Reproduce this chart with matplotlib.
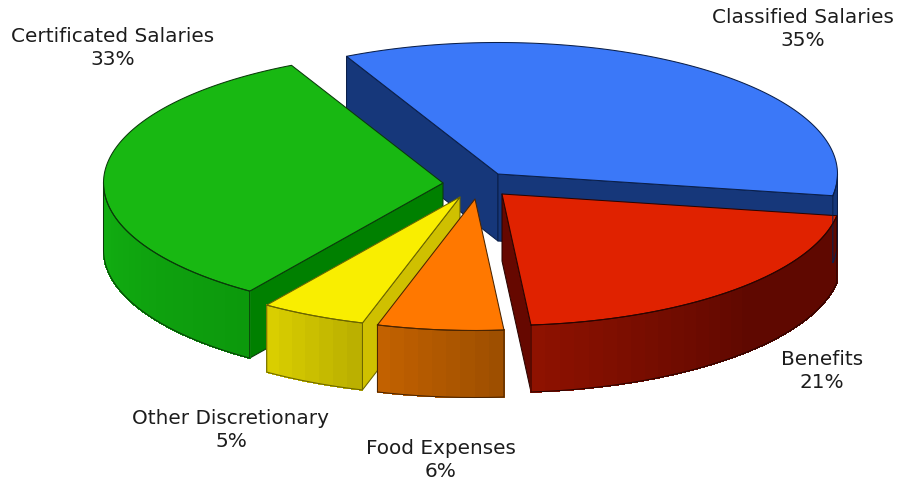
import numpy as np
import matplotlib
matplotlib.use("Agg")
import matplotlib.pyplot as plt
from matplotlib.colors import to_rgb

# Budget shares, clockwise from the back-left of the pie
categories = ["Classified Salaries", "Benefits", "Food Expenses",
              "Other Discretionary", "Certificated Salaries"]
shares = [35, 21, 6, 5, 33]

# Per-slice styling
top_colors = ["#3b78f8", "#e02200", "#ff7800", "#f9ee00", "#18b812"]
cut_colors = ["#16377a", "#660800", "#a04f00", "#cfc000", "#008000"]
wall_left = ["#16377a", "#8f1200", "#c46200", "#dcd000", "#12b012"]
wall_right = ["#16377a", "#5f0800", "#9c4e00", "#b8ae00", "#0c980c"]
wall_ramp = [1.0, 0.55, 1.0, 1.0, 1.0]
edge_colors = ["#0a1f4a", "#2a0400", "#4a2400", "#6a6400", "#0a3a0a"]

# Exploded apex of each slice in pixels, and the projected pie shape
apexes = [(498, 175), (502, 195), (475, 200), (460, 198), (443, 184)]
label_xy = [(803, 29), (822, 371), (441, 460), (231, 430), (113, 48)]
RX, RY, DEPTH = 339.5, 131.5, 67.0
START_DEG = 116.5
DRAW_ORDER = [0, 1, 4, 3, 2]

fig = plt.figure(figsize=(8.99, 4.85), dpi=100, facecolor="white")
ax = fig.add_axes([0, 0, 1, 1])
ax.set_xlim(0, 899)
ax.set_ylim(485, 0)
ax.axis("off")


def rim(apex, t_deg):
    t = np.radians(t_deg)
    return apex[0] + RX * np.cos(t), apex[1] - RY * np.sin(t)


def draw_cut(apex, t_deg, color, edge):
    x, y = rim(apex, t_deg)
    ax.fill([apex[0], x, x, apex[0]],
            [apex[1], y, y + DEPTH, apex[1] + DEPTH],
            facecolor=color, edgecolor=edge, linewidth=0.75, joinstyle="round")


def draw_slice(i, t_hi, t_lo):
    apex = apexes[i]
    edge = edge_colors[i]

    # Radial faces: a face is seen only when its outward normal meets the viewer
    if np.cos(np.radians(t_hi)) < 0:
        draw_cut(apex, t_hi, cut_colors[i], edge)
    if np.cos(np.radians(t_lo)) > 0:
        draw_cut(apex, t_lo, cut_colors[i], edge)

    # Outer wall on the front half of the ellipse, shaded in flat bands
    lo = max(t_lo, -180.0)
    hi = min(t_hi, 0.0)
    if hi > lo:
        n = max(int(round((hi - lo) / 2.5)), 1)
        steps = np.linspace(lo, hi, n + 1)
        c0, c1 = np.array(to_rgb(wall_left[i])), np.array(to_rgb(wall_right[i]))
        for k in range(n):
            seg = np.linspace(steps[k], steps[k + 1], 8)
            xs, ys = rim(apex, seg)
            frac = min(((k + 0.5) / n) / wall_ramp[i], 1.0)
            col = c0 + (c1 - c0) * frac
            ax.fill(np.r_[xs, xs[::-1]], np.r_[ys, ys[::-1] + DEPTH],
                    facecolor=col, edgecolor=col, linewidth=0.6,
                    antialiased=False)
        seg = np.linspace(lo, hi, 80)
        xs, ys = rim(apex, seg)
        ax.plot(np.r_[xs, xs[::-1], xs[0]],
                np.r_[ys, ys[::-1] + DEPTH, ys[0]],
                color=edge, linewidth=0.75, solid_joinstyle="round")

    # Top face
    seg = np.linspace(t_hi, t_lo, 160)
    xs, ys = rim(apex, seg)
    ax.fill(np.r_[apex[0], xs], np.r_[apex[1], ys],
            facecolor=top_colors[i], edgecolor=edge, linewidth=0.75,
            joinstyle="round")


# Slice boundaries from the shares
sweeps = np.array(shares) / sum(shares) * 360.0
bounds = START_DEG - np.r_[0, np.cumsum(sweeps)]

for i in DRAW_ORDER:
    draw_slice(i, bounds[i], bounds[i + 1])

for name, share, (x, y) in zip(categories, shares, label_xy):
    ax.text(x, y, f"{name}\n{share}%", ha="center", va="center",
            fontsize=14.4, color="#1c1c1c", family="DejaVu Sans",
            linespacing=1.22)

fig.savefig("out.png", dpi=100, facecolor="white")
